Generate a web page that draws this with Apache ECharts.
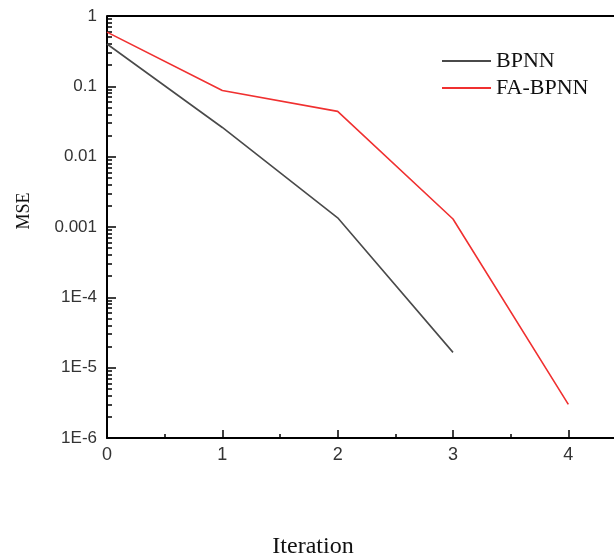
<!DOCTYPE html>
<html>
<head>
<meta charset="utf-8">
<script src="https://cdn.jsdelivr.net/npm/echarts@6/dist/echarts.min.js"></script>
<style>
	html, body { margin: 0; padding: 0; background: #fff; }
	#chart { width: 614px; height: 560px; }
</style>
</head>
<body>
<div id="chart"></div>
<script>
// 迭代次数
const iterations = [0, 1, 2, 3, 4]
// MSE 数据
const bpnnMse = [0.40, 0.026, 0.00135, 0.0000165]
const faBpnnMse = [0.59, 0.087, 0.044, 0.0013, 0.000003]
// y 轴刻度文字
const yTickValues = [1, 0.1, 0.01, 0.001, 0.0001, 0.00001, 0.000001]
const yTickLabels = ['1', '0.1', '0.01', '0.001', '1E-4', '1E-5', '1E-6']

// 对数轴次刻度 (2..9 × 10^n)
const minorLogTicks = []
for (let e = -6; e < 0; e++) {
	for (let k = 2; k <= 9; k++) minorLogTicks.push(e + Math.log10(k))
}

const toPairs = (ys) => ys.map((v, i) => [iterations[i], v])

const sansFont = 'Liberation Sans, Arial, sans-serif'
const serifFont = 'Liberation Serif, Times New Roman, serif'

const chart = echarts.init(document.getElementById('chart'))
chart.setOption({
	animation: false,
	backgroundColor: '#fff',
	grid: { left: 107, top: 16, width: 519, height: 422, outerBoundsMode: 'none' },
	legend: {
		left: 442,
		top: 50,
		padding: 0,
		orient: 'vertical',
		itemWidth: 49,
		itemHeight: 2,
		itemGap: 5,
		icon: 'rect',
		textStyle: { fontFamily: serifFont, fontSize: 22, color: '#111' },
		data: ['BPNN', 'FA-BPNN'],
	},
	xAxis: {
		type: 'value',
		min: 0,
		max: 4.5,
		interval: 1,
		name: 'Iteration',
		nameLocation: 'middle',
		nameGap: 97,
		nameTextStyle: {
			fontFamily: serifFont,
			fontSize: 24,
			color: '#111',
			padding: [0, 107, 0, 0],
		},
		axisLine: { onZero: false, lineStyle: { color: '#000', width: 2 } },
		axisTick: { inside: true, length: 8, lineStyle: { color: '#000', width: 1.5 } },
		minorTick: { show: true, splitNumber: 2, length: 4, lineStyle: { color: '#000', width: 1.5 } },
		axisLabel: {
			fontFamily: sansFont,
			fontSize: 18,
			color: '#333',
			margin: 8,
			showMaxLabel: false,
		},
		splitLine: { show: false },
	},
	yAxis: [
		{
			type: 'log',
			logBase: 10,
			min: 0.000001,
			max: 1,
			name: 'MSE',
			nameLocation: 'middle',
			nameGap: 74,
			nameRotate: 90,
			nameTextStyle: {
				fontFamily: serifFont,
				fontSize: 18,
				color: '#111',
				padding: [0, 0, 0, 32],
			},
			axisLine: { show: true, lineStyle: { color: '#000', width: 2 } },
			axisTick: { inside: true, length: 9, lineStyle: { color: '#000', width: 1.5 } },
			axisLabel: {
				fontFamily: sansFont,
				fontSize: 17,
				color: '#333',
				margin: 10,
				formatter: (v) => {
					const idx = yTickValues.findIndex((t) => Math.abs(Math.log10(t) - Math.log10(v)) < 1e-6)
					return idx >= 0 ? yTickLabels[idx] : ''
				},
			},
			splitLine: { show: false },
		},
		{
			// 次刻度辅助轴
			type: 'value',
			min: -6,
			max: 0,
			position: 'left',
			axisLine: { show: false, onZero: false },
			axisLabel: { show: false },
			axisTick: {
				show: true,
				inside: true,
				length: 5,
				customValues: minorLogTicks,
				lineStyle: { color: '#000', width: 1.5 },
			},
			splitLine: { show: false },
		},
	],
	graphic: [
		{
			// 上边框
			type: 'line',
			shape: { x1: 107, y1: 16, x2: 614, y2: 16 },
			style: { stroke: '#000', lineWidth: 2 },
		},
	],
	series: [
		{
			name: 'BPNN',
			type: 'line',
			symbol: 'none',
			color: '#4a4a4a',
			lineStyle: { width: 1.6 },
			data: toPairs(bpnnMse),
		},
		{
			name: 'FA-BPNN',
			type: 'line',
			symbol: 'none',
			color: '#f03030',
			lineStyle: { width: 1.6 },
			data: toPairs(faBpnnMse),
		},
	],
})
</script>
</body>
</html>
